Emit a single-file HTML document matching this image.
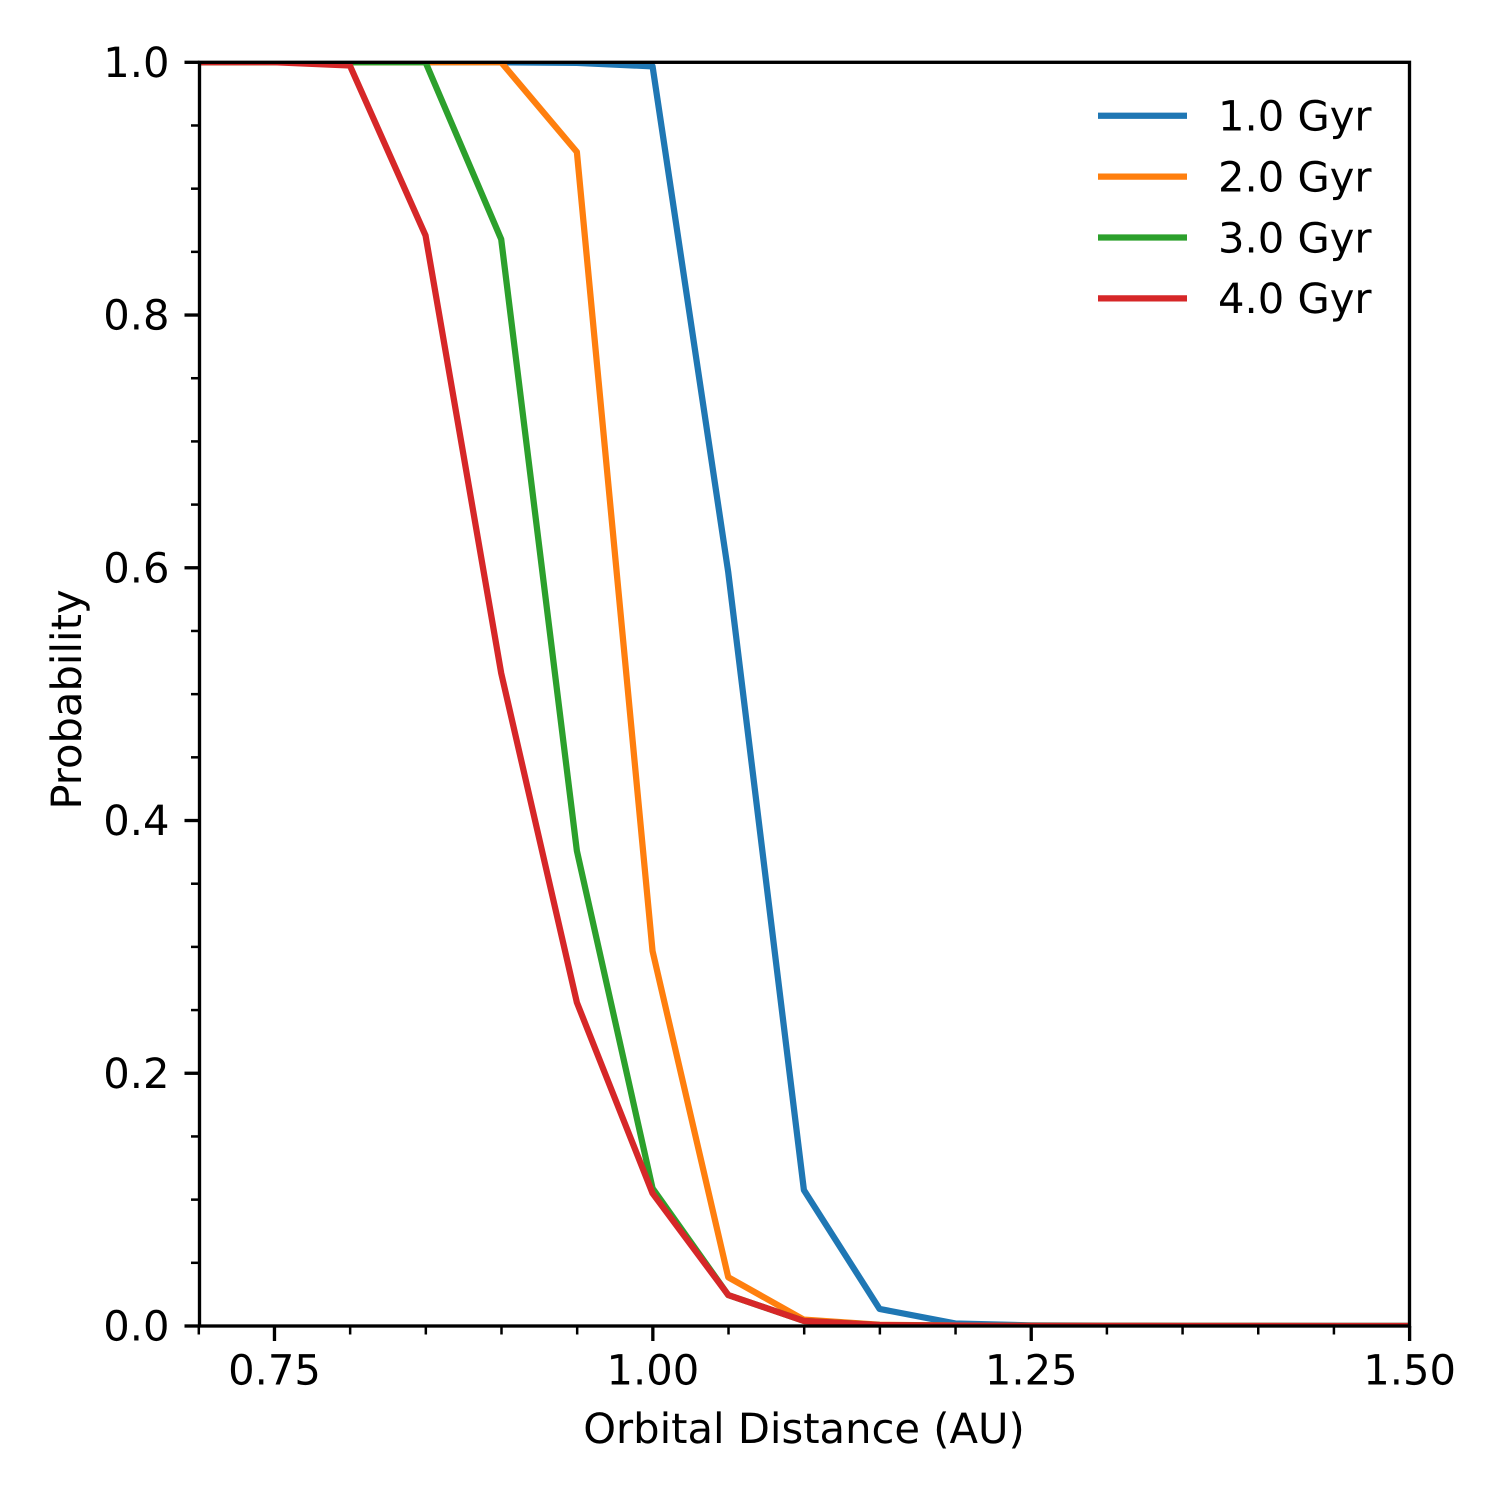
<!DOCTYPE html>
<html>
<head>
<meta charset="utf-8">
<title>Probability vs Orbital Distance</title>
<style>
  html, body { margin: 0; padding: 0; background: #fff; }
  svg { display: block; }
  text { font-family: "DejaVu Sans", "Liberation Sans", sans-serif; font-size: 41.67px; fill: #000; text-rendering: geometricPrecision; }
</style>
</head>
<body>
<svg id="chart" xmlns="http://www.w3.org/2000/svg" width="1500" height="1500" viewBox="0 0 1500 1500">
  <defs>
    <clipPath id="plot-clip"><rect x="199.5" y="62.3" width="1210" height="1263.7"></rect></clipPath>
  </defs>
  <rect x="0" y="0" width="1500" height="1500" fill="#ffffff"></rect>
  <g id="series-layer" clip-path="url(#plot-clip)"></g>
  <g id="tick-layer"></g>
  <g id="legend-layer"></g>
  <rect x="199.5" y="62.3" width="1210" height="1263.7" fill="none" stroke="#000" stroke-width="3.33"></rect>
  <text x="804" y="1443" text-anchor="middle">Orbital Distance (AU)</text>
  <text transform="translate(81 699.5) rotate(-90)" text-anchor="middle">Probability</text>
</svg>
<script>
const distances = [0.70, 0.75, 0.80, 0.85, 0.90, 0.95, 1.00, 1.05, 1.10, 1.15, 1.20, 1.25, 1.30, 1.35, 1.40, 1.45, 1.50];
const seriesNames = ["1.0 Gyr", "2.0 Gyr", "3.0 Gyr", "4.0 Gyr"];
const seriesColors = ["#1f77b4", "#ff7f0e", "#2ca02c", "#d62728"];
const gyr1Values = [1, 1, 1, 1, 1, 0.9995, 0.9968, 0.5965, 0.1076, 0.0135, 0.002, 0.0005, 0.0003, 0.0002, 0.0002, 0.0001, 0.0001];
const gyr2Values = [1, 1, 1, 1, 1, 0.929, 0.2967, 0.0386, 0.005, 0.001, 0.0004, 0.0002, 0.0001, 0.0001, 0.0001, 0, 0];
const gyr3Values = [1, 1, 1, 1, 0.86, 0.376, 0.109, 0.0245, 0.004, 0.0008, 0.0003, 0.0001, 0.0001, 0, 0, 0, 0];
const gyr4Values = [1, 1, 0.9975, 0.863, 0.5166, 0.256, 0.105, 0.0245, 0.004, 0.0008, 0.0003, 0.0001, 0.0001, 0, 0, 0, 0];
const xMajorTicks = [0.75, 1.00, 1.25, 1.50];
const xMajorLabels = ["0.75", "1.00", "1.25", "1.50"];
const xMinorTicks = [0.70, 0.80, 0.85, 0.90, 0.95, 1.05, 1.10, 1.15, 1.20, 1.30, 1.35, 1.40, 1.45];
const yMajorTicks = [0, 0.2, 0.4, 0.6, 0.8, 1.0];
const yMajorLabels = ["0.0", "0.2", "0.4", "0.6", "0.8", "1.0"];
const yMinorTicks = [0.05, 0.1, 0.15, 0.25, 0.3, 0.35, 0.45, 0.5, 0.55, 0.65, 0.7, 0.75, 0.85, 0.9, 0.95];

const allSeries = [gyr1Values, gyr2Values, gyr3Values, gyr4Values];
const SVG_NS = "http://www.w3.org/2000/svg";

function xScale(v) { return 198.5 + (v - 0.7) / 0.8 * 1210.8; }
function yScale(v) { return 1326 - v * 1263.7; }

function makeLine(x1, y1, x2, y2, stroke, width) {
  const el = document.createElementNS(SVG_NS, "line");
  el.setAttribute("x1", x1);
  el.setAttribute("y1", y1);
  el.setAttribute("x2", x2);
  el.setAttribute("y2", y2);
  el.setAttribute("stroke", stroke);
  el.setAttribute("stroke-width", width);
  return el;
}

function makeText(x, y, anchor, content) {
  const el = document.createElementNS(SVG_NS, "text");
  el.setAttribute("x", x);
  el.setAttribute("y", y);
  el.setAttribute("text-anchor", anchor);
  el.textContent = content;
  return el;
}

const seriesLayer = document.getElementById("series-layer");
allSeries.forEach(function (values, i) {
  const points = values.map(function (v, j) {
    return xScale(distances[j]).toFixed(2) + "," + yScale(v).toFixed(2);
  }).join(" ");
  const poly = document.createElementNS(SVG_NS, "polyline");
  poly.setAttribute("points", points);
  poly.setAttribute("fill", "none");
  poly.setAttribute("stroke", seriesColors[i]);
  poly.setAttribute("stroke-width", "6.25");
  poly.setAttribute("stroke-linejoin", "round");
  poly.setAttribute("stroke-linecap", "square");
  
  
  seriesLayer.appendChild(poly);
});

const tickLayer = document.getElementById("tick-layer");
xMinorTicks.forEach(function (v) {
  const t = makeLine(xScale(v) + 0.3, 1326, xScale(v) + 0.3, 1334.5, "#000", 2.5);
  
  
  tickLayer.appendChild(t);
});
xMajorTicks.forEach(function (v, i) {
  const t = makeLine(xScale(v) + 0.3, 1326, xScale(v) + 0.3, 1341, "#000", 3.33);
  
  
  tickLayer.appendChild(t);
  const label = makeText(xScale(v) + 0.3, 1384.5, "middle", xMajorLabels[i]);
  
  
  tickLayer.appendChild(label);
});
yMinorTicks.forEach(function (v) {
  const t = makeLine(199.5, yScale(v), 191, yScale(v), "#000", 2.5);
  
  
  tickLayer.appendChild(t);
});
yMajorTicks.forEach(function (v, i) {
  const t = makeLine(199.5, yScale(v), 184.5, yScale(v), "#000", 3.33);
  
  
  tickLayer.appendChild(t);
  const label = makeText(169.5, yScale(v) + 14.7, "end", yMajorLabels[i]);
  
  
  tickLayer.appendChild(label);
});

const legendLayer = document.getElementById("legend-layer");
seriesNames.forEach(function (name, i) {
  const rowY = 115.7 + i * 60.9;
  const swatch = makeLine(1098, rowY, 1187, rowY, seriesColors[i], 6.25);
  
  
  legendLayer.appendChild(swatch);
  const label = makeText(1218, rowY + 14.8, "start", name);
  
  
  legendLayer.appendChild(label);
});
</script>
</body>
</html>
